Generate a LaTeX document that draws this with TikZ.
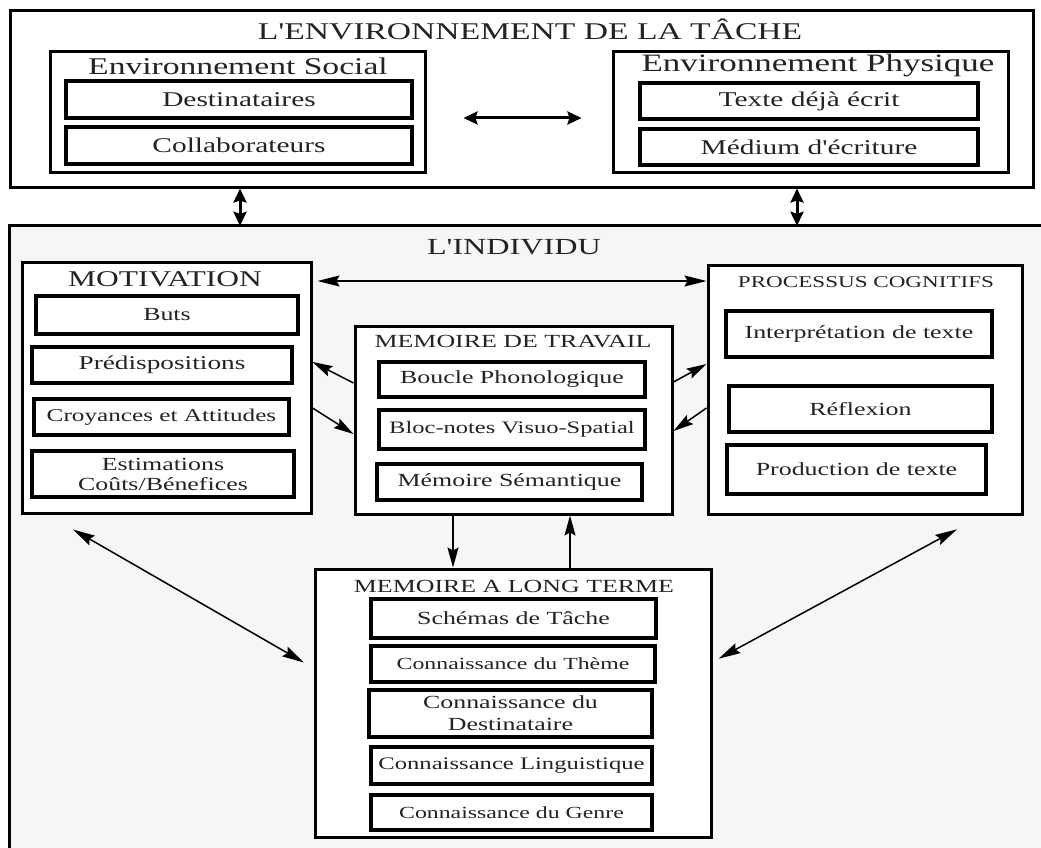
\documentclass[tikz,border=0pt]{standalone}
\usepackage{fontspec}
\setmainfont[FakeStretch=1.4, Ligatures=TeXOff]{Liberation Serif}
\usetikzlibrary{arrows.meta}
\newcommand{\fsz}[1]{\fontsize{#1}{#1}\selectfont}
\definecolor{txt}{RGB}{35,35,35}
\definecolor{bgind}{RGB}{246,246,246}
\begin{document}
\begin{tikzpicture}[x=1pt,y=-1pt,
  outer/.style={draw, line width=3pt, fill=white, inner sep=0pt},
  inbox/.style={draw, line width=3.5pt, fill=white, inner sep=0pt, text=txt, align=center, font=\fsz{18.5}},
  ttl/.style={text=txt, inner sep=0pt},
  thin/.style={line width=1.5pt, {Stealth[length=22pt,width=11pt,inset=3pt]}-{Stealth[length=22pt,width=11pt,inset=3pt]}},
  one/.style={line width=1.5pt, -{Stealth[length=20pt,width=11pt,inset=3pt]}},
  thick/.style={line width=3pt, {Stealth[length=14pt,width=13pt,inset=2pt]}-{Stealth[length=14pt,width=13pt,inset=2pt]}}
]
\useasboundingbox (0,0) rectangle (1041,848);
\fill[white] (0,0) rectangle (1041,848);

% ---------- task environment ----------
\node[outer, minimum width=1023pt, minimum height=176pt] (TOP) at (521.5,99) {};
\node[ttl, font=\fsz{24}] (ttop) at (530,29) {L'ENVIRONNEMENT DE LA TÂCHE};

\node[outer, minimum width=375pt, minimum height=120pt] (ES) at (237.5,112) {};
\node[ttl, font=\fsz{24}] (tes) at (238,66) {Environnement Social};
\node[inbox, font=\fsz{21}, minimum width=346pt, minimum height=37pt] (dest) at (239,99.5) {Destinataires};
\node[inbox, font=\fsz{21}, minimum width=346pt, minimum height=37pt] (coll) at (239,145.5) {Collaborateurs};

\node[outer, minimum width=395pt, minimum height=120pt] (EP) at (810.5,112) {};
\node[ttl, font=\fsz{25}] (tep) at (818,66) {Environnement Physique};
\node[inbox, font=\fsz{21}, minimum width=338pt, minimum height=36pt] (texte) at (809,101) {Texte déjà écrit};
\node[inbox, font=\fsz{21}, minimum width=338pt, minimum height=36pt] (medium) at (809,147) {Médium d'écriture};

\draw[thick, shorten <=37pt, shorten >=30pt] (ES.east |- 0,118) -- (EP.west |- 0,118);

% ---------- individual ----------
\node[fill=bgind, inner sep=0pt, minimum width=1031pt, minimum height=622pt] (IND) at (525.5,537) {};
\draw[line width=3pt] (IND.south west) -- (IND.north west) -- (IND.north east);
\node[ttl, font=\fsz{23}] (tind) at (514,247) {L'INDIVIDU};

\draw[thick] (TOP.south -| 240,0) -- (IND.north -| 240,0);
\draw[thick] (TOP.south -| 797,0) -- (IND.north -| 797,0);

% motivation
\node[outer, minimum width=289pt, minimum height=251pt] (MOT) at (166.5,387.5) {};
\node[ttl, font=\fsz{22.5}] (tmot) at (165,279) {MOTIVATION};
\node[inbox, minimum width=262pt, minimum height=38pt] (buts) at (167,315) {Buts};
\node[inbox, font=\fsz{19.5}, minimum width=260pt, minimum height=36pt] (pred) at (162,365) {Prédispositions};
\node[inbox, font=\fsz{18}, minimum width=255pt, minimum height=36pt] (croy) at (161.5,417) {Croyances et Attitudes};
\node[inbox, font=\fontsize{18.5}{20}\selectfont, minimum width=262pt, minimum height=46pt] (estim) at (163,474) {Estimations\\Coûts/Bénefices};

% working memory
\node[outer, minimum width=317pt, minimum height=188pt] (WM) at (513.5,420) {};
\node[ttl, font=\fsz{18.5}] (twm) at (513,342) {MEMOIRE DE TRAVAIL};
\node[inbox, minimum width=266pt, minimum height=35pt] (boucle) at (512,379.5) {Boucle Phonologique};
\node[inbox, font=\fsz{17.5}, minimum width=266pt, minimum height=39pt] (bloc) at (512,429.5) {Bloc-notes Visuo-Spatial};
\node[inbox, minimum width=265pt, minimum height=36pt] (msem) at (509.5,482) {Mémoire Sémantique};

% cognitive processes
\node[outer, minimum width=314pt, minimum height=249pt] (PC) at (865,389.5) {};
\node[ttl, font=\fsz{16.5}] (tpc) at (866,282) {PROCESSUS COGNITIFS};
\node[inbox, minimum width=266pt, minimum height=46pt] (interp) at (859,334) {Interprétation de texte};
\node[inbox, minimum width=263pt, minimum height=46pt] (refl) at (860.5,409) {Réflexion};
\node[inbox, minimum width=259pt, minimum height=49pt] (prod) at (856.5,469.5) {Production de texte};

% long-term memory
\node[outer, minimum width=396pt, minimum height=268pt] (LTM) at (513,703) {};
\node[ttl, font=\fsz{18.5}] (tltm) at (514,586) {MEMOIRE A LONG TERME};
\node[inbox, minimum width=285pt, minimum height=39pt] (schem) at (513.5,618.5) {Schémas de Tâche};
\node[inbox, font=\fsz{17}, minimum width=284pt, minimum height=36pt] (theme) at (513,664) {Connaissance du Thème};
\node[inbox, font=\fontsize{18.5}{22}\selectfont, minimum width=283pt, minimum height=47pt] (cdest) at (510.5,713.5) {Connaissance du\\Destinataire};
\node[inbox, font=\fsz{17.6}, minimum width=281pt, minimum height=37pt] (ling) at (511.5,765.5) {Connaissance Linguistique};
\node[inbox, font=\fsz{17}, minimum width=281pt, minimum height=35pt] (genre) at (511.5,812.5) {Connaissance du Genre};

% ---------- connectors ----------
\draw[thin, shorten <=5pt] (MOT.east |- 0,281) -- (PC.west |- 0,281);
\draw[one] (WM.west |- 0,383) -- (MOT.east |- 0,362);
\draw[one] (MOT.east |- 0,408) -- (WM.west |- 0,434);
\draw[one] (WM.east |- 0,382) -- (PC.west |- 0,364);
\draw[one] (PC.west |- 0,408) -- (WM.east |- 0,431);
\draw[one] (WM.south -| 453,0) -- (LTM.north -| 453,0);
\draw[one] (LTM.north -| 570,0) -- (WM.south -| 570,0);
\draw[thin, shorten <=30pt, shorten >=11pt] (MOT.south -| 47,0) -- (LTM.west |- 0,668);
\draw[thin, shorten <=29pt, shorten >=7pt] (PC.south -| 982.5,0) -- (LTM.east |- 0,662);
\end{tikzpicture}
\end{document}
